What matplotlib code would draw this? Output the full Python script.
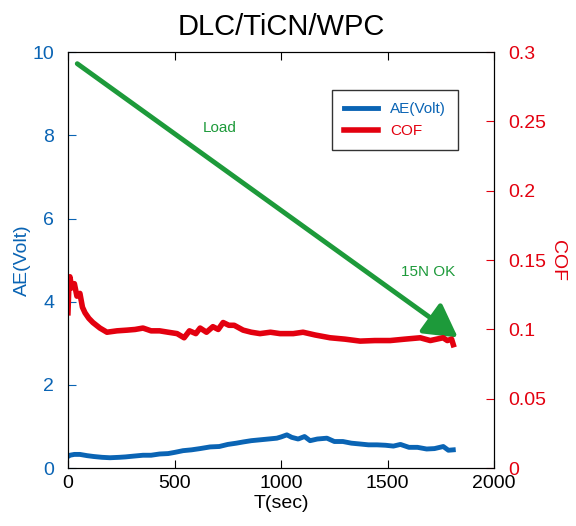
import matplotlib.pyplot as plt
import numpy as np

plt.rcParams['font.family'] = ['Liberation Sans', 'DejaVu Sans']

# data
t_cof = [0, 5, 9, 18, 30, 42, 56, 68, 80, 98, 117, 150, 183, 230, 277, 315, 352, 390, 430, 470,
         512, 545, 570, 600, 620, 650, 680, 705, 728, 755, 780, 822, 860, 901, 950, 995, 1057,
         1103, 1160, 1230, 1300, 1371, 1440, 1512, 1580, 1653, 1700, 1730, 1760, 1780, 1800, 1808]
cof = [0.112, 0.135, 0.138, 0.130, 0.133, 0.124, 0.126, 0.116, 0.112, 0.108, 0.105, 0.101, 0.098,
       0.099, 0.0995, 0.100, 0.101, 0.099, 0.099, 0.098, 0.097, 0.094, 0.099, 0.097, 0.101, 0.098,
       0.102, 0.100, 0.105, 0.103, 0.103, 0.0995, 0.098, 0.097, 0.098, 0.097, 0.097, 0.098, 0.096,
       0.094, 0.093, 0.0916, 0.092, 0.092, 0.093, 0.094, 0.092, 0.093, 0.094, 0.092, 0.093, 0.089]
t_ae = [0, 9, 30, 56, 90, 120, 160, 197, 240, 270, 310, 352, 390, 430, 470, 502, 540, 580, 620,
        667, 710, 750, 790, 823, 860, 900, 940, 980, 1000, 1027, 1050, 1080, 1110, 1136, 1170,
        1215, 1250, 1290, 1330, 1371, 1410, 1450, 1490, 1527, 1560, 1600, 1640, 1683, 1720, 1761,
        1785, 1808]
ae = [0.28, 0.31, 0.33, 0.33, 0.30, 0.28, 0.26, 0.25, 0.26, 0.27, 0.29, 0.31, 0.31, 0.34, 0.35,
      0.38, 0.42, 0.44, 0.47, 0.51, 0.52, 0.57, 0.60, 0.63, 0.66, 0.68, 0.70, 0.72, 0.75, 0.80,
      0.74, 0.70, 0.76, 0.66, 0.70, 0.72, 0.64, 0.64, 0.60, 0.58, 0.56, 0.56, 0.55, 0.53, 0.57,
      0.50, 0.50, 0.46, 0.47, 0.52, 0.43, 0.44]

blue = '#0a64b4'
red = '#e3000f'
green = '#1d9a3a'

fig = plt.figure(figsize=(5.76, 5.26), dpi=100)
ax = fig.add_axes([0.118, 0.110, 0.740, 0.791])
ax2 = ax.twinx()

l1, = ax.plot(t_ae, ae, color=blue, lw=3.5, label='AE(Volt)')
l2, = ax2.plot(t_cof, cof, color=red, lw=4, label='COF')

ax.set_xlim(0, 2000)
ax.set_ylim(0, 10)
ax2.set_ylim(0, 0.3)
ax.set_xticks([0, 500, 1000, 1500, 2000])
ax.set_yticks([0, 2, 4, 6, 8, 10])
ax2.set_yticks([0, 0.05, 0.1, 0.15, 0.2, 0.25, 0.3])
ax2.set_yticklabels(['0', '0.05', '0.1', '0.15', '0.2', '0.25', '0.3'])

ax.tick_params(axis='x', direction='in', top=True, labelsize=14, length=6, pad=5)
ax.tick_params(axis='y', direction='in', colors=blue, labelsize=14, length=6, pad=10)
ax2.tick_params(axis='y', direction='in', colors=red, labelsize=14, length=6, pad=10)
for sp in ax2.spines.values():
    sp.set_color('black')
for sp in ax.spines.values():
    sp.set_color('black')

ax.set_xlabel('T(sec)', fontsize=14, labelpad=2)
ax.set_ylabel('AE(Volt)', fontsize=14, color=blue, labelpad=1)
ax2.set_ylabel('COF', fontsize=14, color=red, rotation=-90, labelpad=14)
ax.set_title('DLC/TiCN/WPC', fontsize=21, pad=12)

# load arrow
ax.annotate('', xy=(1840, 3.1), xytext=(33, 9.76),
            arrowprops=dict(arrowstyle='-|>,head_length=0.5,head_width=0.28',
                            color=green, lw=3.5, mutation_scale=40))
ax.text(713, 8.17, 'Load', color=green, fontsize=11, ha='center', va='center')
ax.text(1690, 4.71, '15N OK', color=green, fontsize=11, ha='center', va='center')

leg = ax2.legend([l1, l2], ['AE(Volt)', 'COF'], loc='upper right',
                 bbox_to_anchor=(0.933, 0.927), fontsize=11, frameon=True,
                 fancybox=False, edgecolor='black', handlelength=2.2, borderpad=0.8)
leg.get_frame().set_linewidth(1)
for txt, c in zip(leg.get_texts(), [blue, red]):
    txt.set_color(c)

plt.savefig('out.png', dpi=100)
